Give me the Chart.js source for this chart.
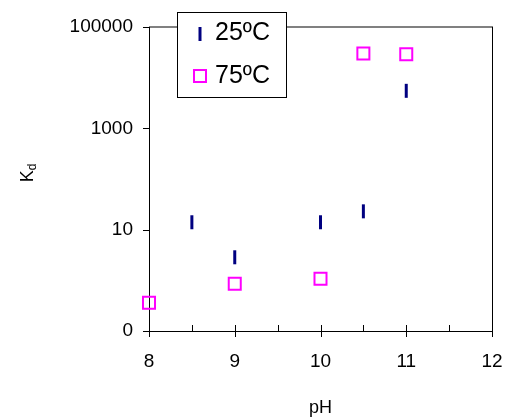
<!DOCTYPE html>
<html>
<head>
<meta charset="utf-8">
<script src="https://cdn.jsdelivr.net/npm/chart.js@4.4.1/dist/chart.umd.min.js"></script>
<style>
html,body{margin:0;padding:0;background:#fff;}
canvas{display:block;}
</style>
</head>
<body>
<canvas id="c" width="505" height="419"></canvas>
<script>
const seriesNames = ['25ºC', '75ºC'];
const ph25 = [8.5, 9, 10, 10.5, 11];
const kd25 = [14, 2.85, 14, 23, 5500];
const ph75 = [8, 9, 10, 10.5, 11];
const kd75 = [0.36, 0.86, 1.08, 30000, 29000];
const xTicks = [8, 9, 10, 11, 12];
const xMinorTicks = [8.5, 9.5, 10.5, 11.5];
const yTicks = [0.1, 10, 1000, 100000];
const yTickLabels = ['0', '10', '1000', '100000'];
const xTitle = 'pH';
const yTitleMain = 'K';
const yTitleSub = 'd';

const FONT = "'Liberation Sans', Arial, sans-serif";
const NAVY = '#000080';
const MAGENTA = '#FF00FF';

const deco = {
  id: 'deco',
  beforeDatasetsDraw(chart) {
    const {ctx, chartArea: a, scales: {x, y}} = chart;
    ctx.save();
    ctx.strokeStyle = '#808080'; ctx.lineWidth = 2;
    ctx.beginPath(); ctx.moveTo(a.left, a.top); ctx.lineTo(a.right + 1, a.top); ctx.stroke();
    ctx.strokeStyle = '#000'; ctx.lineWidth = 1;
    ctx.beginPath();
    ctx.moveTo(a.right + 0.5, a.top); ctx.lineTo(a.right + 0.5, a.bottom);
    ctx.moveTo(a.left + 0.5, a.top); ctx.lineTo(a.left + 0.5, a.bottom + 0.5);
    ctx.moveTo(a.left, a.bottom + 0.5); ctx.lineTo(a.right + 1, a.bottom + 0.5);
    ctx.stroke();
    ctx.beginPath();
    yTicks.forEach(v => {
      const py = Math.round(y.getPixelForValue(v)) + 0.5;
      ctx.moveTo(a.left - 6, py); ctx.lineTo(a.left, py);
    });
    xTicks.forEach(v => {
      const px = Math.round(x.getPixelForValue(v)) + 0.5;
      const top = (v === xTicks[0] || v === xTicks[xTicks.length - 1]) ? a.bottom : a.bottom - 6;
      ctx.moveTo(px, top); ctx.lineTo(px, a.bottom + 6);
    });
    xMinorTicks.forEach(v => {
      const px = Math.round(x.getPixelForValue(v)) + 0.5;
      ctx.moveTo(px, a.bottom - 6); ctx.lineTo(px, a.bottom);
    });
    ctx.stroke();
    ctx.restore();
  },
  afterDraw(chart) {
    const {ctx, chartArea: a} = chart;
    ctx.save();
    ctx.fillStyle = '#000';
    ctx.font = '18px ' + FONT;
    ctx.textAlign = 'center'; ctx.textBaseline = 'middle';
    ctx.fillText(xTitle, (a.left + a.right) / 2, 408);
    ctx.translate(33, 173);
    ctx.rotate(-Math.PI / 2);
    ctx.textAlign = 'left'; ctx.textBaseline = 'alphabetic';
    ctx.font = '18px ' + FONT;
    const kw = ctx.measureText(yTitleMain).width;
    ctx.font = '12px ' + FONT;
    const dw = ctx.measureText(yTitleSub).width;
    const tot = kw + dw;
    ctx.font = '18px ' + FONT;
    ctx.fillText(yTitleMain, -tot / 2, 0);
    ctx.font = '12px ' + FONT;
    ctx.fillText(yTitleSub, -tot / 2 + kw, 3);
    ctx.restore();

    ctx.save();
    const bx = 177.5, by = 12.5, bw = 109, bh = 85;
    ctx.fillStyle = '#fff';
    ctx.fillRect(bx, by, bw, bh);
    ctx.strokeStyle = '#000'; ctx.lineWidth = 1;
    ctx.strokeRect(bx, by, bw, bh);
    ctx.strokeStyle = NAVY; ctx.lineWidth = 3;
    ctx.beginPath(); ctx.moveTo(200, 27); ctx.lineTo(200, 41); ctx.stroke();
    ctx.strokeStyle = MAGENTA; ctx.lineWidth = 2;
    ctx.strokeRect(194, 70, 12, 12);
    ctx.fillStyle = '#000';
    ctx.font = '25px ' + FONT;
    ctx.textAlign = 'left'; ctx.textBaseline = 'middle';
    ctx.fillText(seriesNames[0], 215, 33);
    ctx.fillText(seriesNames[1], 215, 76);
    ctx.restore();
  }
};

new Chart(document.getElementById('c'), {
  type: 'scatter',
  data: {
    datasets: [
      {
        label: seriesNames[0],
        data: ph25.map((v, i) => ({x: v, y: kd25[i]})),
        pointStyle: 'line',
        rotation: 90,
        radius: 7,
        borderWidth: 3,
        borderColor: NAVY,
        backgroundColor: NAVY,
        clip: false
      },
      {
        label: seriesNames[1],
        data: ph75.map((v, i) => ({x: v, y: kd75[i]})),
        pointStyle: 'rect',
        radius: 8.5,
        borderWidth: 2,
        borderColor: MAGENTA,
        backgroundColor: 'rgba(0,0,0,0)',
        clip: false
      }
    ]
  },
  options: {
    responsive: false,
    animation: false,
    devicePixelRatio: 1,
    layout: {padding: {left: 0, top: 27, right: 13, bottom: 0}},
    plugins: {legend: {display: false}, tooltip: {enabled: false}},
    scales: {
      x: {
        type: 'linear',
        min: 8, max: 12,
        border: {display: false},
        grid: {display: false, drawTicks: false},
        afterBuildTicks: s => { s.ticks = xTicks.map(v => ({value: v})); },
        afterFit: s => { s.height = 419 - 27 - 304; s.paddingLeft = 0; s.paddingRight = 0; },
        ticks: {
          padding: 19,
          maxRotation: 0,
          color: '#000',
          font: {family: FONT, size: 19},
          callback: v => String(v)
        }
      },
      y: {
        type: 'logarithmic',
        min: 0.1, max: 100000,
        border: {display: false},
        grid: {display: false, drawTicks: false},
        afterBuildTicks: s => { s.ticks = yTicks.map(v => ({value: v})); },
        afterFit: s => { s.width = 149; s.paddingTop = 0; s.paddingBottom = 0; },
        ticks: {
          padding: 16,
          color: '#000',
          font: {family: FONT, size: 19},
          callback: (v, i) => yTickLabels[i]
        }
      }
    }
  },
  plugins: [deco]
});
</script>
</body>
</html>
